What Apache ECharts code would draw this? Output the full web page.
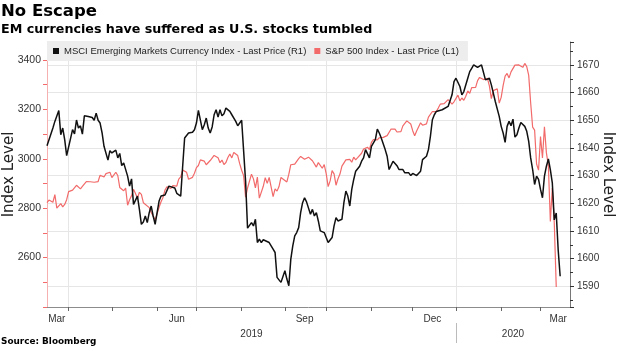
<!DOCTYPE html>
<html>
<head>
<meta charset="utf-8">
<script src="https://cdn.jsdelivr.net/npm/echarts@6/dist/echarts.min.js"></script>
<style>
html,body{margin:0;padding:0;background:#fff;}
#chart{width:620px;height:348px;}
</style>
</head>
<body>
<div id="chart"></div>
<script>
// ---------- text ----------
const titleText = 'No Escape';
const subtitleText = 'EM currencies have suffered as U.S. stocks tumbled';
const sourceText = 'Source: Bloomberg';
const axisTitle = 'Index Level';
const nameMSCI = 'MSCI Emerging Markets Currency Index - Last Price (R1)';
const nameSPX = 'S&P 500 Index - Last Price (L1)';

// ---------- x axis (weekday calendar) ----------
const axisStart = '2019-03-15';
const axisEnd = '2020-03-23';
const monthNames = ['Jan','Feb','Mar','Apr','May','Jun','Jul','Aug','Sep','Oct','Nov','Dec'];
const monthLabelDates = ['2019-03-22','2019-06-17','2019-09-16','2019-12-16','2020-03-13'];
const yearLabelDates = ['2019-08-08','2020-02-11'];
const yearBreakDate = '2020-01-01';
const gridMonths = ['01','04','07','10'];

// ---------- y axes ----------
const leftTicks = [2400,2500,2600,2700,2800,2900,3000,3100,3200,3300,3400];
const leftLabels = [2600,2800,3000,3200,3400];
const leftMin = 2400, leftMax = 3473;
const rightMin = 1582.5, rightMax = 1678.3;

// ---------- S&P 500 (left axis) ----------
const spx = [
['2019-03-15',2822.5],['2019-03-18',2832.9],['2019-03-19',2832.6],['2019-03-20',2824.2],['2019-03-21',2854.9],['2019-03-22',2800.7],['2019-03-25',2798.4],['2019-03-26',2818.5],['2019-03-27',2805.4],['2019-03-28',2815.4],['2019-03-29',2834.4],
['2019-04-01',2867.2],['2019-04-02',2867.2],['2019-04-03',2873.4],['2019-04-04',2879.4],['2019-04-05',2892.7],['2019-04-08',2895.8],['2019-04-09',2878.2],['2019-04-10',2888.2],['2019-04-11',2888.3],['2019-04-12',2907.4],['2019-04-15',2905.6],['2019-04-16',2907.1],['2019-04-17',2900.5],['2019-04-18',2905.0],['2019-04-22',2908.0],['2019-04-23',2933.7],['2019-04-24',2927.3],['2019-04-25',2926.2],['2019-04-26',2939.9],['2019-04-29',2943.0],['2019-04-30',2945.8],
['2019-05-01',2923.7],['2019-05-02',2917.5],['2019-05-03',2945.6],['2019-05-06',2932.5],['2019-05-07',2884.1],['2019-05-08',2879.4],['2019-05-09',2870.7],['2019-05-10',2881.4],['2019-05-13',2811.9],['2019-05-14',2834.4],['2019-05-15',2851.0],['2019-05-16',2876.3],['2019-05-17',2859.5],['2019-05-20',2840.2],['2019-05-21',2864.4],['2019-05-22',2856.3],['2019-05-23',2822.2],['2019-05-24',2826.1],['2019-05-28',2802.4],['2019-05-29',2783.0],['2019-05-30',2788.9],['2019-05-31',2752.1],
['2019-06-03',2744.5],['2019-06-04',2803.3],['2019-06-05',2826.2],['2019-06-06',2843.5],['2019-06-07',2873.3],['2019-06-10',2886.7],['2019-06-11',2885.7],['2019-06-12',2879.8],['2019-06-13',2891.6],['2019-06-14',2887.0],['2019-06-17',2889.7],['2019-06-18',2917.8],['2019-06-19',2926.5],['2019-06-20',2954.2],['2019-06-21',2950.5],['2019-06-24',2945.4],['2019-06-25',2917.4],['2019-06-26',2913.8],['2019-06-27',2924.9],['2019-06-28',2941.8],
['2019-07-01',2964.3],['2019-07-02',2973.0],['2019-07-03',2995.8],['2019-07-05',2990.4],['2019-07-08',2976.0],['2019-07-09',2979.6],['2019-07-10',2993.1],['2019-07-11',2999.9],['2019-07-12',3013.8],['2019-07-15',3014.3],['2019-07-16',3004.0],['2019-07-17',2984.4],['2019-07-18',2995.1],['2019-07-19',2976.6],['2019-07-22',2985.0],['2019-07-23',3005.5],['2019-07-24',3019.6],['2019-07-25',3003.7],['2019-07-26',3025.9],['2019-07-29',3021.0],['2019-07-30',3013.2],['2019-07-31',2980.4],
['2019-08-01',2953.6],['2019-08-02',2932.1],['2019-08-05',2844.7],['2019-08-06',2881.8],['2019-08-07',2884.0],['2019-08-08',2938.1],['2019-08-09',2918.7],['2019-08-12',2882.7],['2019-08-13',2926.3],['2019-08-14',2840.6],['2019-08-15',2847.6],['2019-08-16',2888.7],['2019-08-19',2923.7],['2019-08-20',2900.5],['2019-08-21',2924.4],['2019-08-22',2923.0],['2019-08-23',2847.1],['2019-08-26',2878.4],['2019-08-27',2869.2],['2019-08-28',2887.9],['2019-08-29',2924.6],['2019-08-30',2926.5],
['2019-09-03',2906.3],['2019-09-04',2937.8],['2019-09-05',2976.0],['2019-09-06',2978.7],['2019-09-09',2978.4],['2019-09-10',2979.4],['2019-09-11',3000.9],['2019-09-12',3009.6],['2019-09-13',3007.4],['2019-09-16',2998.0],['2019-09-17',3005.7],['2019-09-18',3006.7],['2019-09-19',3006.8],['2019-09-20',2992.1],['2019-09-23',2991.8],['2019-09-24',2966.6],['2019-09-25',2984.9],['2019-09-26',2977.6],['2019-09-27',2961.8],['2019-09-30',2976.7],
['2019-10-01',2940.3],['2019-10-02',2887.6],['2019-10-03',2910.6],['2019-10-04',2952.0],['2019-10-07',2938.8],['2019-10-08',2893.1],['2019-10-09',2919.4],['2019-10-10',2938.1],['2019-10-11',2970.3],['2019-10-14',2966.2],['2019-10-15',2995.7],['2019-10-16',2989.7],['2019-10-17',2998.0],['2019-10-18',2986.2],['2019-10-21',3006.7],['2019-10-22',2996.0],['2019-10-23',3004.5],['2019-10-24',3010.3],['2019-10-25',3022.6],['2019-10-28',3039.4],['2019-10-29',3036.9],['2019-10-30',3046.8],['2019-10-31',3037.6],
['2019-11-01',3066.9],['2019-11-04',3078.3],['2019-11-05',3074.6],['2019-11-06',3076.8],['2019-11-07',3085.2],['2019-11-08',3093.1],['2019-11-11',3087.0],['2019-11-12',3091.8],['2019-11-13',3094.0],['2019-11-14',3096.6],['2019-11-15',3120.5],['2019-11-18',3122.0],['2019-11-19',3120.2],['2019-11-20',3108.5],['2019-11-21',3103.5],['2019-11-22',3110.3],['2019-11-25',3133.6],['2019-11-26',3140.5],['2019-11-27',3153.6],['2019-11-29',3141.0],
['2019-12-02',3113.9],['2019-12-03',3093.2],['2019-12-04',3112.8],['2019-12-05',3117.4],['2019-12-06',3145.9],['2019-12-09',3136.0],['2019-12-10',3132.5],['2019-12-11',3141.6],['2019-12-12',3168.6],['2019-12-13',3168.8],['2019-12-16',3191.5],['2019-12-17',3192.5],['2019-12-18',3191.1],['2019-12-19',3205.4],['2019-12-20',3221.2],['2019-12-23',3224.0],['2019-12-24',3223.4],['2019-12-26',3239.9],['2019-12-27',3240.0],['2019-12-30',3221.3],['2019-12-31',3230.8],
['2020-01-02',3257.9],['2020-01-03',3234.9],['2020-01-06',3246.3],['2020-01-07',3237.2],['2020-01-08',3253.1],['2020-01-09',3274.7],['2020-01-10',3265.4],['2020-01-13',3288.1],['2020-01-14',3283.2],['2020-01-15',3289.3],['2020-01-16',3316.8],['2020-01-17',3329.6],['2020-01-21',3320.8],['2020-01-22',3321.8],['2020-01-23',3325.5],['2020-01-24',3295.5],['2020-01-27',3243.6],['2020-01-28',3276.2],['2020-01-29',3273.4],['2020-01-30',3283.7],['2020-01-31',3225.5],
['2020-02-03',3248.9],['2020-02-04',3297.6],['2020-02-05',3334.7],['2020-02-06',3345.8],['2020-02-07',3327.7],['2020-02-10',3352.1],['2020-02-11',3357.8],['2020-02-12',3379.5],['2020-02-13',3373.9],['2020-02-14',3380.2],['2020-02-18',3370.3],['2020-02-19',3386.2],['2020-02-20',3373.2],['2020-02-21',3337.8],['2020-02-24',3225.9],['2020-02-25',3128.2],['2020-02-26',3116.4],['2020-02-27',2978.8],['2020-02-28',2954.2],
['2020-03-02',3090.2],['2020-03-03',3003.4],['2020-03-04',3130.1],['2020-03-05',3023.9],['2020-03-06',2972.4],['2020-03-09',2746.6],['2020-03-10',2882.2],['2020-03-11',2741.4],['2020-03-12',2480.6]
];

// ---------- MSCI EM Currency Index (right axis) ----------
const msci = [
['2019-03-15',1640.8],['2019-03-20',1647.2],['2019-03-21',1649.6],['2019-03-25',1653.5],['2019-03-26',1644.8],['2019-03-27',1647.2],['2019-03-28',1643.0],['2019-03-29',1637.2],
['2019-04-03',1646.6],['2019-04-04',1645.1],['2019-04-05',1650.1],['2019-04-08',1647.2],['2019-04-09',1648.0],['2019-04-10',1645.0],['2019-04-11',1651.6],['2019-04-15',1651.4],['2019-04-17',1651.0],['2019-04-18',1650.0],['2019-04-19',1652.6],['2019-04-22',1650.0],['2019-04-23',1649.0],['2019-04-24',1645.5],['2019-04-25',1640.6],['2019-04-29',1635.6],['2019-04-30',1639.0],
['2019-05-01',1638.2],['2019-05-03',1639.2],['2019-05-06',1636.4],['2019-05-07',1638.0],['2019-05-08',1633.6],['2019-05-09',1634.6],['2019-05-10',1634.4],['2019-05-13',1629.8],['2019-05-14',1626.2],['2019-05-15',1628.8],['2019-05-16',1619.6],['2019-05-17',1620.2],['2019-05-20',1622.6],['2019-05-21',1617.8],['2019-05-22',1612.4],['2019-05-23',1613.2],['2019-05-24',1615.4],['2019-05-27',1613.0],['2019-05-28',1616.6],['2019-05-29',1619.0],['2019-05-30',1615.4],['2019-05-31',1612.4],
['2019-06-03',1616.6],['2019-06-04',1620.8],['2019-06-05',1622.6],['2019-06-07',1623.0],['2019-06-10',1622.6],['2019-06-11',1626.2],['2019-06-12',1626.8],['2019-06-14',1625.5],['2019-06-17',1623.6],['2019-06-19',1622.6],['2019-06-20',1633.4],['2019-06-21',1643.6],['2019-06-24',1644.2],['2019-06-25',1645.4],['2019-06-27',1645.7],['2019-06-28',1646.6],
['2019-07-01',1649.0],['2019-07-02',1653.6],['2019-07-04',1646.6],['2019-07-05',1648.4],['2019-07-08',1650.8],['2019-07-09',1647.2],['2019-07-10',1645.4],['2019-07-11',1647.6],['2019-07-12',1652.0],['2019-07-15',1653.8],['2019-07-16',1651.2],['2019-07-17',1653.8],['2019-07-18',1651.6],['2019-07-19',1652.4],['2019-07-22',1654.4],['2019-07-24',1653.2],['2019-07-25',1652.0],['2019-07-26',1651.4],['2019-07-29',1649.6],['2019-07-30',1648.0],['2019-07-31',1649.0],
['2019-08-01',1650.0],['2019-08-02',1649.5],['2019-08-05',1628.0],['2019-08-06',1611.0],['2019-08-08',1613.0],['2019-08-09',1611.8],['2019-08-12',1614.2],['2019-08-13',1605.8],['2019-08-14',1607.0],['2019-08-15',1605.8],['2019-08-16',1606.8],['2019-08-19',1607.0],['2019-08-21',1605.8],['2019-08-22',1606.4],['2019-08-23',1603.4],['2019-08-26',1602.2],['2019-08-27',1593.2],['2019-08-28',1592.6],['2019-08-29',1591.4],['2019-08-30',1590.8],
['2019-09-02',1595.6],['2019-09-03',1592.6],['2019-09-04',1590.2],['2019-09-05',1599.8],['2019-09-06',1604.6],['2019-09-09',1608.2],['2019-09-10',1609.4],['2019-09-11',1611.2],['2019-09-12',1616.6],['2019-09-13',1620.2],['2019-09-16',1622.0],['2019-09-17',1620.5],['2019-09-19',1616.0],['2019-09-20',1617.8],['2019-09-23',1615.4],['2019-09-24',1616.6],['2019-09-25',1613.6],['2019-09-26',1610.0],['2019-09-27',1610.6],['2019-09-30',1609.4],
['2019-10-01',1608.8],['2019-10-02',1605.8],['2019-10-03',1605.2],['2019-10-04',1607.6],['2019-10-07',1611.8],['2019-10-08',1614.8],['2019-10-09',1613.6],['2019-10-10',1613.6],['2019-10-11',1614.2],['2019-10-14',1620.2],['2019-10-15',1624.4],['2019-10-16',1622.6],['2019-10-17',1619.0],['2019-10-18',1625.0],['2019-10-21',1628.6],['2019-10-22',1631.6],['2019-10-24',1633.4],['2019-10-25',1635.2],['2019-10-28',1636.4],['2019-10-29',1639.4],['2019-10-30',1639.4],['2019-10-31',1636.4],
['2019-11-01',1640.6],['2019-11-05',1643.0],['2019-11-06',1646.8],['2019-11-07',1645.4],['2019-11-08',1643.6],['2019-11-11',1643.0],['2019-11-12',1639.4],['2019-11-13',1637.0],['2019-11-14',1632.2],['2019-11-15',1631.6],['2019-11-18',1635.2],['2019-11-19',1635.8],['2019-11-20',1633.6],['2019-11-21',1632.2],['2019-11-22',1632.8],['2019-11-25',1632.2],['2019-11-26',1631.0],['2019-11-27',1630.4],['2019-11-28',1631.0],['2019-11-29',1630.0],
['2019-12-02',1630.8],['2019-12-03',1630.4],['2019-12-04',1630.0],['2019-12-05',1629.6],['2019-12-06',1631.6],['2019-12-09',1635.8],['2019-12-10',1636.4],['2019-12-11',1637.0],['2019-12-12',1639.4],['2019-12-13',1644.2],['2019-12-16',1650.2],['2019-12-17',1652.0],['2019-12-18',1653.2],['2019-12-19',1653.5],['2019-12-23',1653.8],['2019-12-24',1654.4],['2019-12-26',1655.0],['2019-12-27',1655.6],['2019-12-30',1659.2],['2019-12-31',1664.0],
['2020-01-01',1665.2],['2020-01-02',1664.6],['2020-01-03',1662.2],['2020-01-06',1659.2],['2020-01-07',1660.4],['2020-01-08',1661.0],['2020-01-09',1665.2],['2020-01-10',1667.6],['2020-01-13',1668.8],['2020-01-14',1670.0],['2020-01-15',1670.4],['2020-01-16',1669.1],['2020-01-17',1669.6],['2020-01-20',1670.0],['2020-01-21',1669.4],['2020-01-22',1664.6],['2020-01-23',1664.0],['2020-01-24',1665.2],['2020-01-27',1662.8],['2020-01-28',1659.8],['2020-01-29',1656.8],['2020-01-30',1656.8],['2020-01-31',1651.4],
['2020-02-03',1647.8],['2020-02-04',1645.4],['2020-02-05',1642.0],['2020-02-06',1647.8],['2020-02-07',1649.6],['2020-02-10',1648.0],['2020-02-11',1650.4],['2020-02-12',1643.9],['2020-02-13',1644.8],['2020-02-14',1647.2],['2020-02-17',1649.2],['2020-02-18',1648.8],['2020-02-19',1647.8],['2020-02-20',1646.0],['2020-02-21',1642.4],['2020-02-24',1636.4],['2020-02-25',1632.2],['2020-02-26',1626.8],['2020-02-27',1629.8],['2020-02-28',1628.6],
['2020-03-02',1625.0],['2020-03-03',1622.0],['2020-03-04',1629.8],['2020-03-05',1633.4],['2020-03-06',1636.0],['2020-03-09',1632.2],['2020-03-10',1627.4],['2020-03-11',1614.0],['2020-03-12',1616.5],['2020-03-13',1603.0],['2020-03-16',1593.6]
];

// ---------- build weekday categories ----------
function iso(d){ return d.toISOString().slice(0,10); }
const days = [];
(function(){
  const d = new Date(axisStart + 'T00:00:00Z');
  const end = new Date(axisEnd + 'T00:00:00Z');
  while (d <= end) {
    const w = d.getUTCDay();
    if (w !== 0 && w !== 6) days.push(iso(d));
    d.setUTCDate(d.getUTCDate() + 1);
  }
})();
function isMonthStart(i){ return i > 0 && days[i].slice(0,7) !== days[i-1].slice(0,7); }
function plainNum(v){ return String(Math.round(v)); }

const RED = '#f26a6a';
const BLACK = '#111111';
const GRIDC = '#e6e6e6';
const LABELC = '#333333';
const FONT = 'Liberation Sans, Arial, sans-serif';
const WIDEFONT = 'DejaVu Sans, Verdana, sans-serif';

const chart = echarts.init(document.getElementById('chart'), null, {renderer: 'canvas'});
chart.setOption({
  animation: false,
  backgroundColor: '#ffffff',
  textStyle: {fontFamily: FONT},
  title: [
    {text: titleText, left: 1, top: 3, padding: 0,
     textStyle: {fontFamily: WIDEFONT, fontWeight: 'bold', fontSize: 16.5, color: '#000'}},
    {text: subtitleText, left: 1, top: 23, padding: 0,
     textStyle: {fontFamily: WIDEFONT, fontWeight: 'bold', fontSize: 12.7, color: '#000'}},
    {text: sourceText, left: 1, top: 337, padding: 0,
     textStyle: {fontFamily: WIDEFONT, fontWeight: 'bold', fontSize: 8.9, color: '#000'}}
  ],
  legend: {
    data: [nameMSCI, nameSPX],
    left: 47, top: 41,
    orient: 'horizontal',
    backgroundColor: '#ededed',
    padding: [5, 9, 5, 6],
    itemWidth: 6, itemHeight: 6, itemGap: 8,
    icon: 'rect',
    textStyle: {fontFamily: FONT, fontSize: 9.5, color: '#222'}
  },
  grid: {left: 47, right: 50, top: 42, bottom: 41, containLabel: false, outerBoundsMode: 'none'},
  xAxis: [
    {
      type: 'category', data: days, boundaryGap: false, position: 'bottom',
      axisLine: {show: true, lineStyle: {color: '#8c8c8c', width: 1}},
      axisTick: {show: true, length: 4, lineStyle: {color: '#666'},
                 interval: function(i){ return isMonthStart(i); }},
      axisLabel: {show: true, color: LABELC, fontSize: 10, margin: 7, fontFamily: FONT,
                  interval: function(i, v){ return monthLabelDates.indexOf(v) >= 0; },
                  formatter: function(v){ return monthNames[parseInt(v.slice(5,7),10)-1]; }},
      splitLine: {show: true, lineStyle: {color: GRIDC, width: 1},
                  interval: function(i){ return isMonthStart(i) && gridMonths.indexOf(days[i].slice(5,7)) >= 0; }}
    },
    {
      type: 'category', data: days, boundaryGap: false, position: 'bottom', offset: 16,
      axisLine: {show: false},
      axisTick: {show: true, length: 20, lineStyle: {color: '#bbbbbb'},
                 interval: function(i, v){ return days[i] === yearBreakDate; }},
      axisLabel: {show: true, color: LABELC, fontSize: 10, margin: 6, fontFamily: FONT,
                  interval: function(i, v){ return yearLabelDates.indexOf(v) >= 0; },
                  formatter: function(v){ return v.slice(0,4); }},
      splitLine: {show: false}
    }
  ],
  yAxis: [
    {
      type: 'value', position: 'left', min: leftMin, max: leftMax, interval: 200,
      name: axisTitle, nameLocation: 'middle', nameGap: 30, nameRotate: 90, nameMoveOverlap: false,
      nameTextStyle: {fontFamily: WIDEFONT, fontSize: 15, color: '#222'},
      axisLine: {show: true, lineStyle: {color: '#f7b0b0', width: 1}},
      axisTick: {show: true, length: 4, lineStyle: {color: RED}, customValues: leftTicks},
      axisLabel: {show: true, color: LABELC, fontSize: 10.5, margin: 6, fontFamily: FONT,
                  customValues: leftLabels, formatter: plainNum},
      splitLine: {show: false}
    },
    {
      type: 'value', position: 'right', min: rightMin, max: rightMax, splitNumber: 9,
      name: axisTitle, nameLocation: 'middle', nameGap: 30, nameRotate: -90, nameMoveOverlap: false,
      nameTextStyle: {fontFamily: WIDEFONT, fontSize: 15, color: '#222'},
      axisLine: {show: true, lineStyle: {color: '#777', width: 1}},
      axisTick: {show: true, length: 4, lineStyle: {color: '#333'}},
      minorTick: {show: true, splitNumber: 2, length: 3, lineStyle: {color: '#333'}},
      axisLabel: {show: true, color: LABELC, fontSize: 10, margin: 7, fontFamily: FONT,
                  showMinLabel: false, showMaxLabel: false, formatter: plainNum},
      splitLine: {show: true, showMinLine: false, showMaxLine: false, lineStyle: {color: GRIDC, width: 1}}
    }
  ],
  series: [
    {
      name: nameSPX, type: 'line', xAxisIndex: 0, yAxisIndex: 0, data: spx,
      symbol: 'none', showSymbol: false, z: 2,
      lineStyle: {color: RED, width: 1.2}, itemStyle: {color: RED}
    },
    {
      name: nameMSCI, type: 'line', xAxisIndex: 0, yAxisIndex: 1, data: msci,
      symbol: 'none', showSymbol: false, z: 3,
      lineStyle: {color: BLACK, width: 1.5}, itemStyle: {color: BLACK}
    }
  ]
});
</script>
</body>
</html>
